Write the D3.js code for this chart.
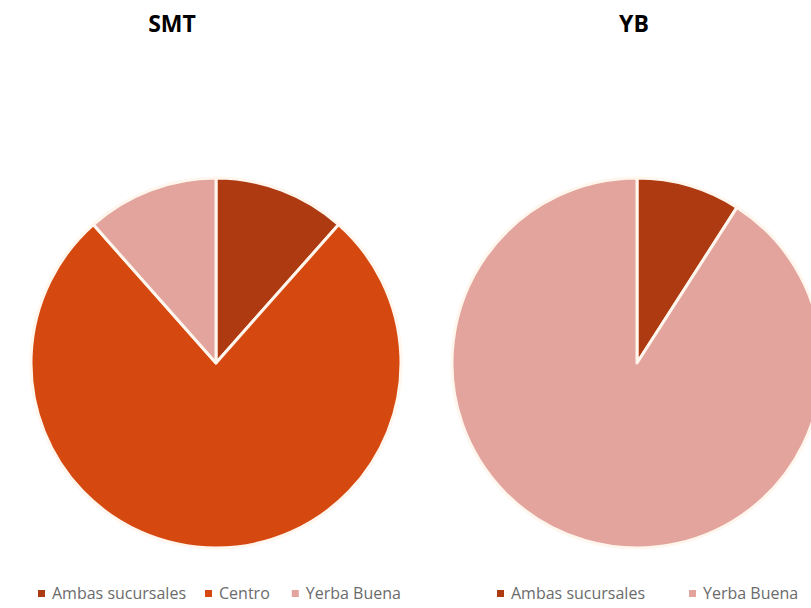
<!DOCTYPE html>
<html>
<head>
<meta charset="utf-8">
<script src="https://cdn.jsdelivr.net/npm/d3@7"></script>
<style>
  html, body { margin: 0; padding: 0; background: #ffffff; }
  svg { display: block; }
</style>
</head>
<body>
<svg id="chart" width="811" height="608"></svg>
<script>
// Branch responses per city
const smtCategories = ["Ambas sucursales", "Centro", "Yerba Buena"];
const smtValues = [3, 20, 3];
const ybCategories = ["Ambas sucursales", "Yerba Buena"];
const ybValues = [1, 10];
const titles = ["SMT", "YB"];

const colorScale = d3.scaleOrdinal()
  .domain(["Ambas sucursales", "Centro", "Yerba Buena"])
  .range(["#ad3a10", "#d5480f", "#e2a49d"]);

const svg = d3.select("#chart");

const panels = [
  { title: titles[0], cats: smtCategories, vals: smtValues, cx: 216, cy: 363, titleX: 172, legendX: 38, gaps: [19, 22] },
  { title: titles[1], cats: ybCategories, vals: ybValues, cx: 637, cy: 363, titleX: 634, legendX: 497, gaps: [44] }
];

const radius = 185;
const pie = d3.pie().sort(null).value(d => d.v);
const arc = d3.arc().innerRadius(0).outerRadius(radius);

panels.forEach(p => {
  const data = p.cats.map((c, i) => ({ c, v: p.vals[i] }));

  svg.append("text")
    .attr("x", p.titleX)
    .attr("y", 32)
    .attr("text-anchor", "middle")
    .attr("font-family", "'Open Sans', sans-serif")
    .attr("font-weight", "bold")
    .attr("font-size", 23)
    .attr("fill", "#000")
    .text(p.title);

  const g = svg.append("g").attr("transform", `translate(${p.cx},${p.cy})`);
  g.selectAll("path")
    .data(pie(data))
    .join("path")
    .attr("d", arc)
    .attr("fill", d => colorScale(d.data.c))
    .attr("stroke", "#fff6ee")
    .attr("stroke-width", 3)
    .attr("stroke-linejoin", "round");

  // legend
  const lg = svg.append("g").attr("transform", `translate(${p.legendX},594)`);
  let x = 0;
  data.forEach((d, i) => {
    lg.append("rect")
      .attr("x", x)
      .attr("y", -4)
      .attr("width", 7)
      .attr("height", 7)
      .attr("fill", colorScale(d.c));
    const t = lg.append("text")
      .attr("x", x + 14)
      .attr("y", 5)
      .attr("font-family", "'Open Sans', sans-serif")
      .attr("font-size", 16)
      .attr("fill", "#6b6b6b")
      .text(d.c);
    const w = t.node().getComputedTextLength();
    x += 14 + w + (p.gaps[i] || 0);
  });
});
</script>
</body>
</html>
